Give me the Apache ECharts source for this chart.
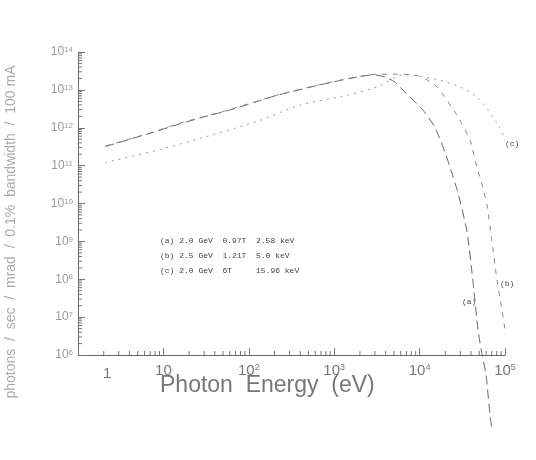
<!DOCTYPE html>
<html>
<head>
<meta charset="utf-8">
<style>
  html, body { margin: 0; padding: 0; background: #fff; }
  #chart { width: 536px; height: 460px; }
</style>
<script src="https://cdn.jsdelivr.net/npm/echarts@6/dist/echarts.min.js"></script>
</head>
<body>
<div id="chart"></div>
<script>
// photon energy (eV) and flux
const energyA = [2.1, 7.6, 14.4, 29, 56, 128, 214, 630, 1530, 2850, 3930, 5150, 6390, 1.1e4, 1.5e4, 1.88e4, 2.27e4, 2.82e4, 3.59e4, 4.2e4, 4.83e4, 5.4e4, 6.0e4, 6.67e4, 7.0e4]
const fluxA = [3.2e11, 7.6e11, 1.2e12, 1.9e12, 2.8e12, 5.0e12, 7.2e12, 1.3e13, 2.0e13, 2.5e13, 2.2e13, 1.6e13, 9.8e12, 2.9e12, 1.05e12, 3.1e11, 9.1e10, 1.9e10, 1.8e9, 9.5e7, 4.6e6, 1.0e6, 3.0e5, 2.6e4, 1.2e4]

const energyB = [2.1, 7.6, 14.4, 29, 56, 128, 214, 630, 1530, 2850, 5900, 1.01e4, 1.6e4, 2.82e4, 3.9e4, 4.7e4, 5.5e4, 6.15e4, 7.0e4, 8.06e4, 9.2e4, 1.02e5]
const fluxB = [3.3e11, 7.7e11, 1.25e12, 1.95e12, 2.9e12, 5.1e12, 7.3e12, 1.32e13, 2.05e13, 2.55e13, 2.6e13, 2.3e13, 1.2e13, 1.9e12, 4.7e11, 9.1e10, 2.6e10, 9.1e9, 1.1e9, 9.5e7, 1.55e7, 3.4e6]

const energyC = [2.07, 9.6, 28.3, 128, 398, 1410, 3190, 6390, 1.1e4, 1.74e4, 2.75e4, 3.9e4, 5.1e4, 6.67e4, 8.7e4, 1.0e5]
const fluxC = [1.2e11, 2.75e11, 5.4e11, 1.5e12, 4.0e12, 7.2e12, 1.2e13, 2.5e13, 2.2e13, 1.8e13, 1.3e13, 8.7e12, 5.4e12, 2.5e12, 9.8e11, 4.7e11]

const legendLines = [
  '(a) 2.0 GeV  0.97T  2.58 keV',
  '(b) 2.5 GeV  1.21T  5.0 keV',
  '(c) 2.0 GeV  6T     15.96 keV'
]

const xMin = 1
const xMax = 1e5
const yMin = 1e6
const yMax = 1e14

// minor ticks 2..9 in every decade
const xMinor = []
for (let d = 0; d < 5; d++) for (let k = 2; k < 10; k++) xMinor.push([k * Math.pow(10, d), yMin])
const yMinor = []
for (let d = 6; d < 14; d++) for (let k = 2; k < 10; k++) yMinor.push([xMin, k * Math.pow(10, d)])

const ink = '#777'

function pairs (xs, ys) {
  return xs.map((x, i) => [x, ys[i]])
}

function sup (v, showOne) {
  const n = Math.round(Math.log10(v))
  if (n === 0) return showOne ? '{b|1}' : ''
  if (n === 1) return '{b|10}'
  return '{b|10}{s|' + n + '}'
}

function xTick (params, api) {
  const p = api.coord([api.value(0), api.value(1)])
  return { type: 'line', shape: { x1: p[0], y1: p[1], x2: p[0], y2: p[1] - 4 }, style: { stroke: ink, lineWidth: 1 } }
}

function yTick (params, api) {
  const p = api.coord([api.value(0), api.value(1)])
  return { type: 'line', shape: { x1: p[0], y1: p[1], x2: p[0] + 4, y2: p[1] }, style: { stroke: ink, lineWidth: 1 } }
}

const chart = echarts.init(document.getElementById('chart'))

chart.setOption({
  animation: false,
  backgroundColor: '#fff',
  grid: { left: 78, right: 31, top: 52, bottom: 105 },
  xAxis: {
    type: 'log',
    logBase: 10,
    min: xMin,
    max: xMax,
    axisLine: { lineStyle: { color: '#666', width: 1 } },
    axisTick: { inside: true, length: 7, lineStyle: { color: ink } },
    splitLine: { show: false },
    axisLabel: {
      margin: 8,
      formatter: v => sup(v, false),
      rich: {
        b: { fontSize: 15, color: ink, fontFamily: 'Liberation Sans' },
        s: { fontSize: 9, color: ink, fontFamily: 'Liberation Sans', verticalAlign: 'top' }
      }
    }
  },
  yAxis: {
    type: 'log',
    logBase: 10,
    min: yMin,
    max: yMax,
    splitNumber: 8,
    axisLine: { lineStyle: { color: '#666', width: 1 } },
    axisTick: { inside: true, length: 7, lineStyle: { color: ink } },
    splitLine: { show: false },
    axisLabel: {
      margin: 5,
      formatter: v => sup(v, true),
      rich: {
        b: { fontSize: 12, color: '#999', fontFamily: 'Liberation Sans' },
        s: { fontSize: 8, color: '#999', fontFamily: 'Liberation Sans', verticalAlign: 'top' }
      }
    }
  },
  series: [
    {
      name: '(a)',
      type: 'line',
      data: pairs(energyA, fluxA),
      smooth: 0.2,
      showSymbol: false,
      clip: false,
      lineStyle: { color: '#666', width: 1, type: [9, 5] }
    },
    {
      name: '(b)',
      type: 'line',
      data: pairs(energyB, fluxB),
      smooth: 0.2,
      showSymbol: false,
      clip: false,
      lineStyle: { color: '#888', width: 1, type: [5, 6] }
    },
    {
      name: '(c)',
      type: 'line',
      data: pairs(energyC, fluxC),
      smooth: 0.2,
      showSymbol: false,
      clip: false,
      lineStyle: { color: '#999', width: 1, type: [2, 5] }
    },
    { type: 'custom', data: xMinor, renderItem: xTick, silent: true },
    { type: 'custom', data: yMinor, renderItem: yTick, silent: true }
  ],
  graphic: [
    {
      type: 'text', left: 103, top: 366,
      style: { text: '1', fontSize: 15, fill: ink, fontFamily: 'Liberation Sans' }
    },
    {
      type: 'text', left: 160, top: 374,
      style: { text: 'Photon  Energy  (eV)', fontSize: 23, fill: '#777', fontFamily: 'Liberation Sans' }
    },
    {
      type: 'text', x: 11, y: 232, rotation: Math.PI / 2,
      style: {
        text: 'photons  /  sec  /  mrad  /  0.1%  bandwidth  /  100 mA',
        fontSize: 14, fill: '#aaa', fontFamily: 'Liberation Sans',
        align: 'center', verticalAlign: 'middle'
      }
    },
    ...legendLines.map((t, i) => ({
      type: 'text', left: 160, top: 237 + i * 15,
      style: { text: t, fontSize: 8, fill: '#444', fontFamily: 'Liberation Mono', whiteSpace: 'pre' }
    })),
    { type: 'text', left: 462, top: 298, style: { text: '(a)', fontSize: 8, fill: '#444', fontFamily: 'Liberation Mono' } },
    { type: 'text', left: 500, top: 280, style: { text: '(b)', fontSize: 8, fill: '#444', fontFamily: 'Liberation Mono' } },
    { type: 'text', left: 505, top: 140, style: { text: '(c)', fontSize: 8, fill: '#444', fontFamily: 'Liberation Mono' } }
  ]
})
</script>
</body>
</html>
